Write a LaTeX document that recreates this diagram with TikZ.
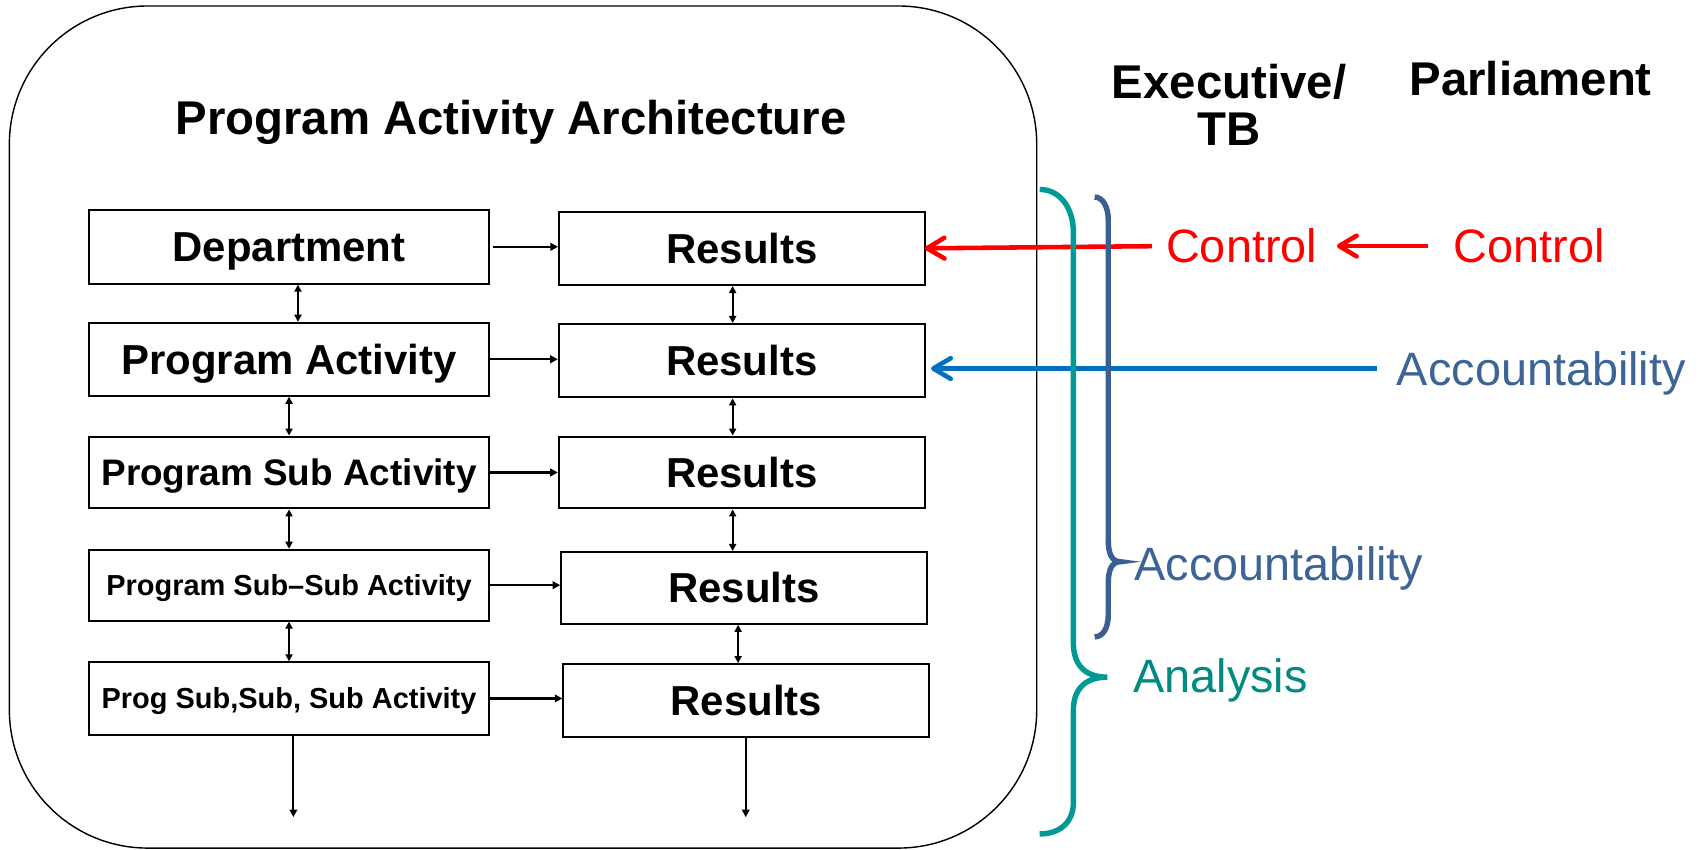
\documentclass[tikz,border=0pt]{standalone}
\usepackage{fontspec}
\setmainfont{Liberation Sans}
\usetikzlibrary{arrows.meta,calc}

\definecolor{ctrlred}{RGB}{255,0,0}
\definecolor{acctblue}{RGB}{0,112,192}
\definecolor{acctnavy}{RGB}{58,96,146}
\definecolor{accttext}{RGB}{60,100,150}
\definecolor{anateal}{RGB}{0,153,148}
\definecolor{anatext}{RGB}{0,138,128}

\newcommand\fsz[1]{\fontsize{#1}{#1}\selectfont}

\begin{document}
\begin{tikzpicture}[x=1pt,y=-1pt,
  pabox/.style={draw, line width=1.8pt, inner sep=0pt, text depth=0pt},
  leftbox/.style={pabox, minimum width=368pt},
  rightbox/.style={pabox, minimum width=336pt},
  bigtxt/.style={font=\bfseries\fsz{38.5}, text height=27.6pt},
  midtxt/.style={font=\bfseries\fsz{33.9}, text height=24.3pt},
  smalltxt/.style={font=\bfseries\fsz{26.6}, text height=19.1pt},
  heading/.style={font=\bfseries\fsz{43.5}, inner sep=0pt},
  lbl/.style={font=\fsz{43}, inner sep=0pt, text depth=0pt, text height=30.8pt, anchor=west},
  smallarr/.style={line width=1.9pt, -{Triangle[length=7pt,width=7pt]}},
  dblarr/.style={line width=1.7pt, {Triangle[length=6.5pt,width=6.5pt]}-{Triangle[length=6.5pt,width=6.5pt]}},
  barb/.style={-{Straight Barb[length=16pt,width=19pt,round]}},
  redline/.style={barb, draw=ctrlred, line width=4.2pt},
  blueline/.style={barb, draw=acctblue, line width=4.2pt},
]
\useasboundingbox (0,0) rectangle (1568,780);

% outer rounded frame
\node[draw, line width=1.3pt, rounded corners=127pt, inner sep=0pt,
      minimum width=943.7pt, minimum height=773.5pt] (frame) at (480.45,392.25) {};

% headings (the two-line heading is placed by the baseline of its last line)
\node[heading, anchor=base] (title) at (469.5,124) {Program Activity Architecture};
\node[heading, anchor=base, align=center] (exec) at (1129,134) {\fontsize{43.5}{53}\selectfont Executive/\\TB};
\node[heading, anchor=base] (parl) at (1406,88) {Parliament};

% left column
\node[leftbox, bigtxt, minimum height=67.7pt] (dep)  at (265.5,226.7) {Department};
\node[leftbox, bigtxt, minimum height=67pt]   (pa)   at (265.5,330)   {Program Activity};
\node[leftbox, midtxt, minimum height=66pt]   (psa)  at (265.5,434)   {Program Sub Activity};
\node[leftbox, smalltxt, minimum height=65pt] (pssa) at (265.5,537.5) {Program Sub--Sub Activity};
\node[leftbox, smalltxt, minimum height=66.4pt] (psss) at (265.5,641.6) {Prog Sub,Sub, Sub Activity};

% right column
\node[rightbox, bigtxt, minimum height=67.4pt] (r1) at (681.5,228.1) {Results};
\node[rightbox, bigtxt, minimum height=67.4pt] (r2) at (681.3,331.3) {Results};
\node[rightbox, bigtxt, minimum height=66pt]   (r3) at (681.3,434)   {Results};
\node[rightbox, bigtxt, minimum height=66pt]   (r4) at (683.5,540)   {Results};
\node[rightbox, bigtxt, minimum height=67.2pt] (r5) at (685.5,643.6) {Results};

% horizontal links
\draw[smallarr, shorten <=2.5pt] (dep.east) -- (dep.east -| r1.west);
\draw[smallarr] (pa.east)   -- (pa.east -| r2.west);
\draw[smallarr] (psa.east)  -- (psa.east -| r3.west);
\draw[smallarr] (pssa.east) -- (pssa.east -| r4.west);
\draw[smallarr] (psss.east) -- (psss.east -| r5.west);

% vertical links, left column
\draw[dblarr] ($(dep.south)+(8.2,0)$) -- ($(pa.north)+(8.2,0)$);
\draw[dblarr] (pa.south) -- (psa.north);
\draw[dblarr] (psa.south) -- (pssa.north);
\draw[dblarr] (pssa.south) -- (psss.north);
\coordinate (endL) at (269.5,750.6);
\draw[smallarr] ($(psss.south)+(4,0)$) -- (endL);

% vertical links, right column
\draw[dblarr] ($(r1.south)+(-8.5,0)$) -- ($(r2.north)+(-8.3,0)$);
\draw[dblarr] ($(r2.south)+(-8.3,0)$) -- ($(r3.north)+(-8.3,0)$);
\draw[dblarr] ($(r3.south)+(-8.3,0)$) -- ($(r4.north)+(-10.5,0)$);
\draw[dblarr] ($(r4.south)+(-5.5,0)$) -- ($(r5.north)+(-7.5,0)$);
\coordinate (endR) at (685,750.6);
\draw[smallarr] ($(r5.south)+(-0.5,0)$) -- (endR);

% labels on the right
\node[lbl, text=ctrlred] (ctl1) at (1071,226) {Control};
\node[lbl, text=ctrlred] (ctl2) at (1335,226) {Control};
\node[lbl, text=accttext] (acc1) at (1283,338.5) {Accountability};
\node[lbl, text=accttext] (acc2) at (1042,518) {Accountability};
\node[lbl, text=anatext]  (anl)  at (1041,621) {Analysis};

% control and accountability flows
\draw[redline, shorten <=13pt, shorten >=-1pt] (ctl1.west) -- (r1.east);
\draw[redline, shorten <=23pt, shorten >=18pt] (ctl2.west) -- (ctl1.east);
\draw[blueline, shorten <=18pt, shorten >=5pt] (acc1.west) -- (acc1.west -| r2.east);

% braces
\draw[anateal, line width=5pt]
  (955,174) .. controls (973,174) and (986,190) .. (986,214)
  -- (986,591) .. controls (986,610) and (996,622) .. (1017,622)
  .. controls (996,622) and (986,634) .. (986,652)
  -- (986,737) .. controls (986,755) and (974,766) .. (955,766);
\draw[acctnavy, line width=5pt]
  (1005.5,181) .. controls (1013,181) and (1018,190) .. (1018,202)
  -- (1018,496) .. controls (1018,508) and (1021,516) .. (1029,516)
  .. controls (1021,516) and (1018,524) .. (1018,536)
  -- (1018,565) .. controls (1018,577) and (1013,585) .. (1005.5,585);
\end{tikzpicture}
\end{document}
